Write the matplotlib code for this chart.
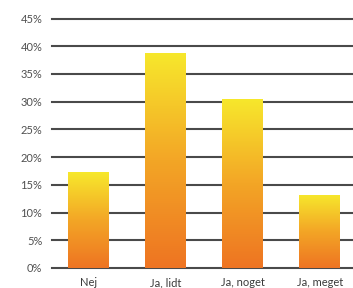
import matplotlib
matplotlib.use("Agg")
import matplotlib.pyplot as plt
import numpy as np
from matplotlib.colors import LinearSegmentedColormap

categories = ["Nej", "Ja, lidt", "Ja, noget", "Ja, meget"]
values = [17.3, 38.8, 30.5, 13.2]
yticks = [0, 5, 10, 15, 20, 25, 30, 35, 40, 45]

plt.rcParams['font.family'] = ['Lato', 'DejaVu Sans']

fig = plt.figure(figsize=(3.53, 2.88), dpi=100)
ax = fig.add_axes([52 / 353, 20 / 288, 1 - 52 / 353, (268 - 13) / 288])

# gradient: orange at bottom, yellow at top
cmap = LinearSegmentedColormap.from_list("sun", ["#ee7422", "#f3a626", "#f7e82c"])
grad = np.linspace(0, 1, 256).reshape(-1, 1)

x = np.arange(len(categories))
bars = ax.bar(x, values, width=0.53, color="none", edgecolor="none", zorder=2)
for b in bars:
    x0, y0 = b.get_x(), b.get_y()
    w, h = b.get_width(), b.get_height()
    im = ax.imshow(grad, cmap=cmap, origin="lower", aspect="auto",
                   extent=[x0, x0 + w, y0, y0 + h], zorder=2)
    im.set_clip_path(b)

for t in yticks:
    ax.axhline(t, color="#4a4a4a", lw=1.5, zorder=1, clip_on=False)

ax.set_xlim(-0.475, 3.43)
ax.set_ylim(0, 46)
ax.set_yticks(yticks)
ax.set_yticklabels([f"{t}%" for t in yticks])
ax.set_xticks(x)
ax.set_xticklabels(categories)
ax.tick_params(axis="both", length=0, labelsize=8, colors="#505050")
ax.tick_params(axis="x", colors="#3a3a3a")
ax.tick_params(axis="y", pad=7)
ax.tick_params(axis="x", pad=6.5)
for s in ax.spines.values():
    s.set_visible(False)

fig.savefig("out.png", dpi=100)
